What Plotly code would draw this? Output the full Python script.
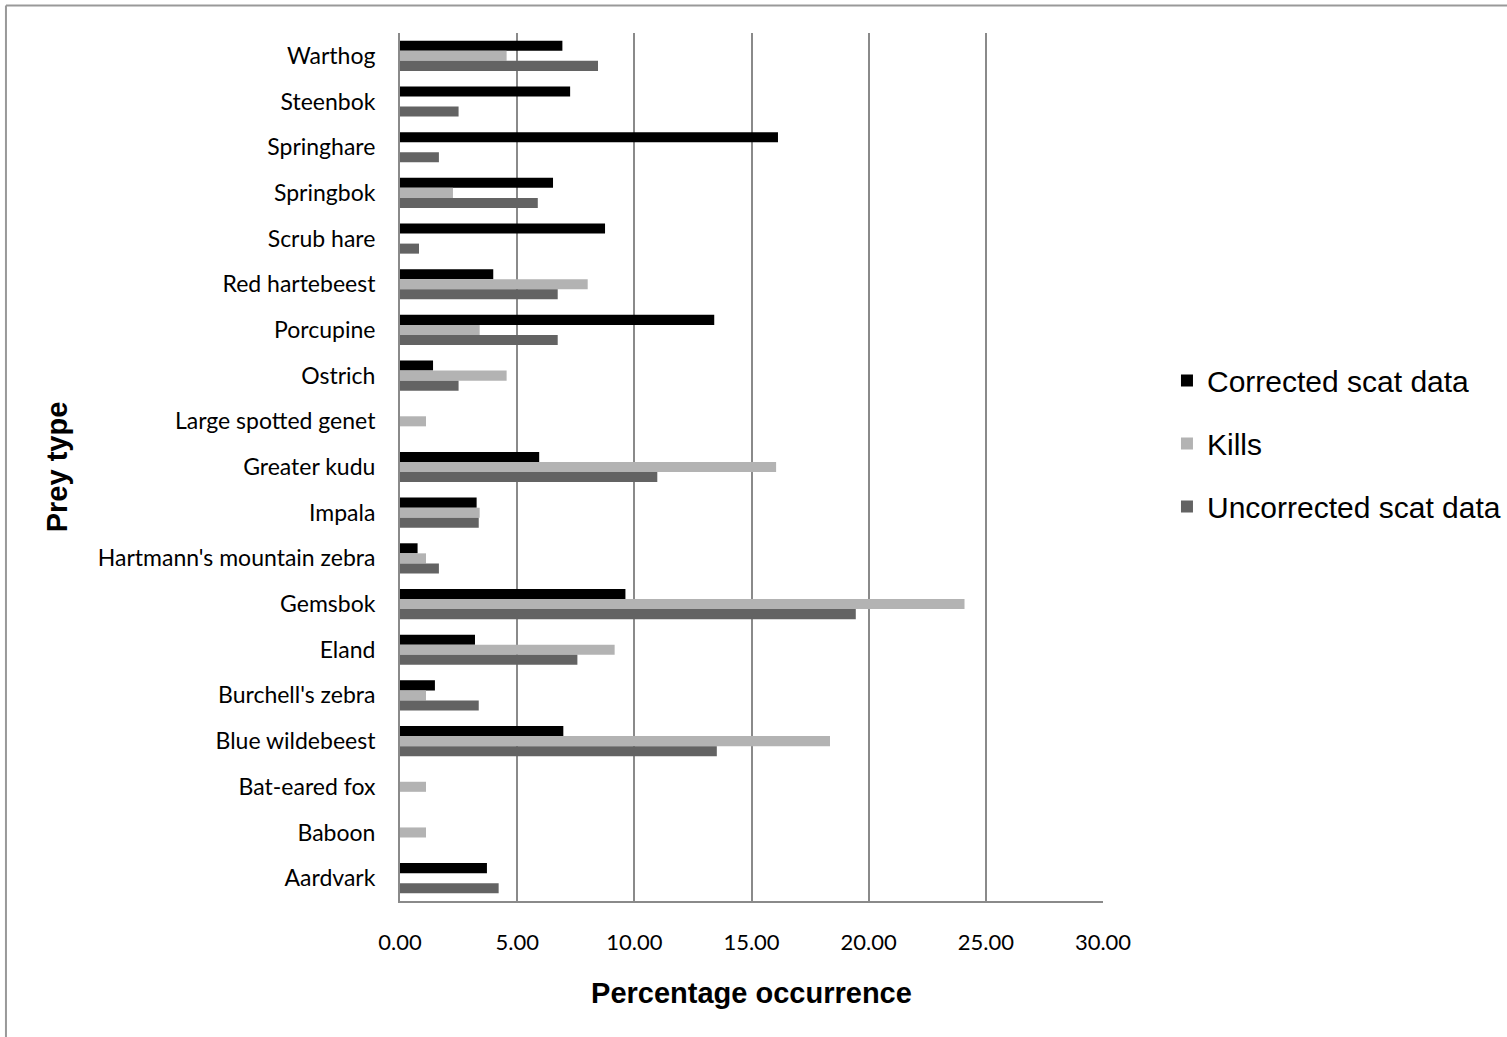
import plotly.graph_objects as go

# Prey categories, listed top to bottom as drawn
prey_types = [
    "Warthog", "Steenbok", "Springhare", "Springbok", "Scrub hare",
    "Red hartebeest", "Porcupine", "Ostrich", "Large spotted genet",
    "Greater kudu", "Impala", "Hartmann's mountain zebra", "Gemsbok",
    "Eland", "Burchell's zebra", "Blue wildebeest", "Bat-eared fox",
    "Baboon", "Aardvark",
]

# Percentage occurrence for each series (None = no bar)
corrected_scat = [6.93, 7.26, 16.13, 6.53, 8.75, 3.98, 13.41, 1.41, None,
                  5.94, 3.27, 0.75, 9.62, 3.20, 1.49, 6.97, None, None, 3.71]
kills = [4.55, None, None, 2.26, None, 8.01, 3.40, 4.55, 1.11,
         16.05, 3.40, 1.11, 24.09, 9.16, 1.11, 18.35, 1.11, 1.11, None]
uncorrected_scat = [8.45, 2.50, 1.66, 5.88, 0.81, 6.73, 6.73, 2.50, None,
                    10.98, 3.36, 1.66, 19.45, 7.57, 3.36, 13.52, None, None, 4.21]

x_ticks = [0, 5, 10, 15, 20, 25, 30]

series = [
    ("Corrected scat data", corrected_scat, "#000000"),
    ("Kills", kills, "#b3b3b3"),
    ("Uncorrected scat data", uncorrected_scat, "#636363"),
]

label_font = "Lato, 'Liberation Sans', Arial, sans-serif"
title_font = "'Liberation Sans', Arial, sans-serif"

fig = go.Figure()
for name, values, color in series:
    fig.add_trace(go.Bar(
        name=name, y=prey_types, x=values, orientation="h",
        marker=dict(color=color, line=dict(width=0)),
        legendgroup=name,
    ))

grid_gray = "#8a8a8a"

fig.update_layout(
    width=1507, height=1037,
    margin=dict(l=400, r=404, t=33, b=136, autoexpand=False),
    paper_bgcolor="white", plot_bgcolor="white",
    barmode="group", bargap=0.34, bargroupgap=0,
    showlegend=True,
    legend=dict(
        x=1.091, xanchor="left", y=0.527, yanchor="middle",
        font=dict(family=title_font, size=30, color="#000000"),
        tracegroupgap=21, itemwidth=30,
        bgcolor="rgba(0,0,0,0)",
    ),
    xaxis=dict(
        range=[0, 30], tickvals=x_ticks, tickformat=".2f",
        showgrid=True, gridcolor=grid_gray, gridwidth=2,
        showline=True, linecolor=grid_gray, linewidth=2,
        zeroline=False, ticks="", ticklabelstandoff=21,
        tickfont=dict(family=label_font, size=22, color="#000000"),
        title=dict(text="<b>Percentage occurrence</b>", standoff=28,
                   font=dict(family=title_font, size=29, color="#000000")),
        fixedrange=True,
    ),
    yaxis=dict(
        categoryorder="array", categoryarray=prey_types,
        autorange="reversed",
        showgrid=False, showline=True, linecolor=grid_gray, linewidth=2,
        ticks="", ticklabelstandoff=18,
        tickfont=dict(family=label_font, size=23, color="#000000"),
        title=dict(text="<b>Prey type</b>", standoff=22,
                   font=dict(family=title_font, size=29, color="#000000")),
        fixedrange=True,
    ),
    shapes=[
        # outer chart-area frame (left and top edges)
        dict(type="line", xref="paper", yref="paper",
             x0=-0.5605, x1=-0.5605, y0=-0.16, y1=1.0317,
             line=dict(color="#999999", width=2)),
        dict(type="line", xref="paper", yref="paper",
             x0=-0.5605, x1=1.58, y0=1.0317, y1=1.0317,
             line=dict(color="#999999", width=2)),
    ],
)

fig.write_html("out.html")
